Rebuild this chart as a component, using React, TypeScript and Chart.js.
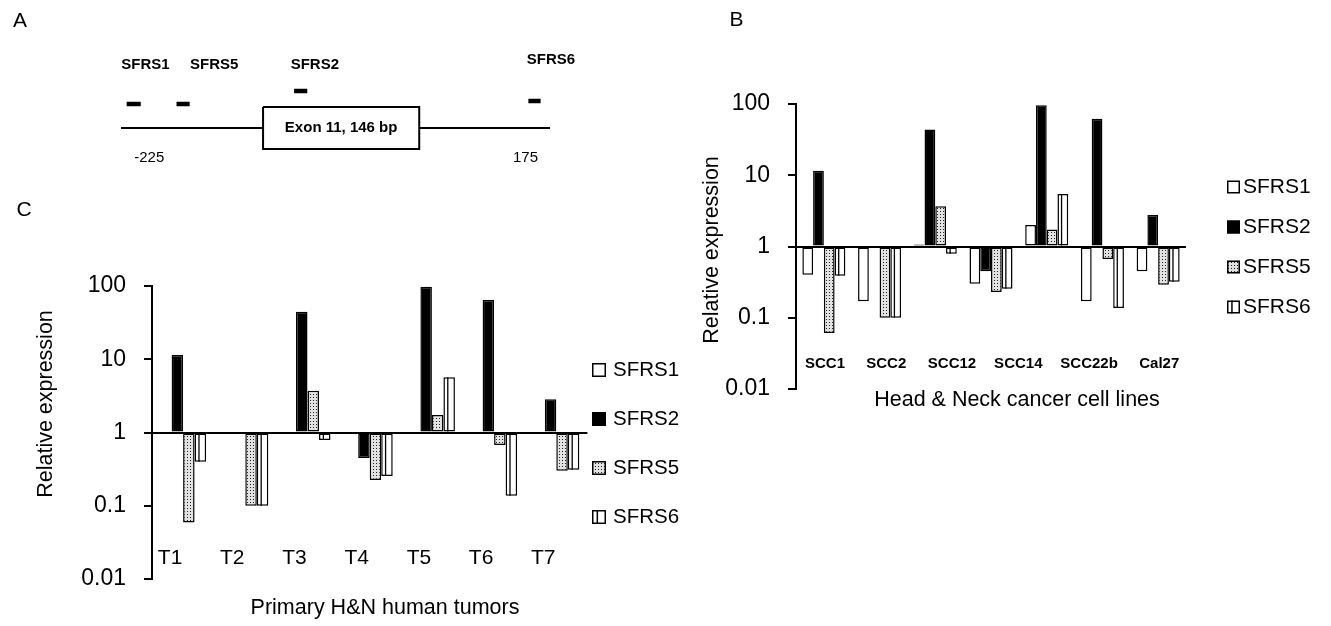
import React, { useEffect, useRef } from 'react';
import { Chart, registerables } from 'chart.js';

Chart.register(...registerables);

const FONT = "'Liberation Sans', Arial, Helvetica, sans-serif";
const FIG_W = 1331;
const FIG_H = 626;

// ---------------- Panel A : schematic (positions in bp around exon 11) ----------------
const regionBp = [-255, 201];
const exonBp = [-104, 62];
const exonLabel = 'Exon 11, 146 bp';
const siteNames = ['SFRS1', 'SFRS5', 'SFRS2', 'SFRS6'];
const siteStartBp = [-249, -196, -71, 178];
const siteEndBp = [-234, -182, -57, 191];
const siteLabelBp = [-229, -156, -49, 202];
const siteLevel = [24, 24, 37, 27];
const siteLabelLevel = [63, 63, 63, 68];
const coordTicks = [-225, 175];

// ---------------- Shared series / axis ----------------
const seriesNames = ['SFRS1', 'SFRS2', 'SFRS5', 'SFRS6'];
const logTickValues = [0.01, 0.1, 1, 10, 100];
const logTickLabels = ['0.01', '0.1', '1', '10', '100'];

// ---------------- Panel B : cell lines ----------------
const barGroupsB = ['1', '2', '3', '4', '5', '6', '7'];
const sfrs1B = [0.40, 0.17, 1.07, 0.30, 2.0, 0.17, 0.45];
const sfrs2B = [11.6, null, 44, 0.45, 96, 62, 2.77];
const sfrs5B = [0.061, 0.10, 3.66, 0.23, 1.73, 0.67, 0.29];
const sfrs6B = [0.39, 0.10, 0.79, 0.256, 5.46, 0.137, 0.32];
const cellLineLabels = ['SCC1', 'SCC2', 'SCC12', 'SCC14', 'SCC22b', 'Cal27'];
const cellLineLabelSlots = [0.02, 1.12, 2.3, 3.49, 4.76, 6.02];

// ---------------- Panel C : primary tumors ----------------
const tumors = ['T1', 'T2', 'T3', 'T4', 'T5', 'T6', 'T7'];
const sfrs1C = [null, null, null, null, null, null, null];
const sfrs2C = [11.4, null, 44.6, 0.45, 98, 64.5, 2.84];
const sfrs5C = [0.059, 0.10, 3.72, 0.225, 1.73, 0.675, 0.30];
const sfrs6C = [0.40, 0.10, 0.79, 0.255, 5.67, 0.137, 0.31];

function drawText(c: CanvasRenderingContext2D, text: string, x: number, y: number, font: string, align: CanvasTextAlign = 'center', rotate = 0) {
  c.save();
  c.translate(x, y);
  if (rotate) c.rotate(rotate);
  c.font = font;
  c.fillStyle = '#000';
  c.textAlign = align;
  c.textBaseline = 'middle';
  c.fillText(text, 0, 0);
  c.restore();
}

function makeDotPattern(ctx: CanvasRenderingContext2D) {
  const pc = document.createElement('canvas');
  pc.width = 3;
  pc.height = 3;
  const g = pc.getContext('2d')!;
  g.fillStyle = '#e2e2e2';
  g.fillRect(0, 0, 3, 3);
  g.fillStyle = '#222222';
  g.fillRect(1, 1, 1, 1);
  return ctx.createPattern(pc, 'repeat');
}

function makeDiagram(canvas: HTMLCanvasElement) {
  const exonHalf = 21;
  const datasets: any[] = [
    {
      label: 'exon',
      data: [
        { x: exonBp[0], y: exonHalf },
        { x: exonBp[1], y: exonHalf },
        { x: exonBp[1], y: -exonHalf },
        { x: exonBp[0], y: -exonHalf },
        { x: exonBp[0], y: exonHalf },
      ],
      borderColor: '#000',
      borderWidth: 2,
      borderJoinStyle: 'miter',
    },
    {
      label: 'intron',
      data: [
        { x: regionBp[0], y: 0 },
        { x: exonBp[0], y: 0 },
        { x: (exonBp[0] + exonBp[1]) / 2, y: null },
        { x: exonBp[1], y: 0 },
        { x: regionBp[1], y: 0 },
      ],
      borderColor: '#000',
      borderWidth: 2,
      spanGaps: false,
    },
    ...siteNames.map((n, i) => ({
      label: n,
      data: [
        { x: siteStartBp[i], y: siteLevel[i] },
        { x: siteEndBp[i], y: siteLevel[i] },
      ],
      borderColor: '#000',
      borderWidth: 4.5,
      borderCapStyle: 'butt',
    })),
  ].map((d) => ({ ...d, showLine: true, pointRadius: 0, fill: false, clip: false }));

  const textPlugin = {
    id: 'diagramText',
    afterDraw(chart: any) {
      const c = chart.ctx as CanvasRenderingContext2D;
      const xs = chart.scales.x;
      const ys = chart.scales.y;
      drawText(c, 'A', 20, 21, `21px ${FONT}`);
      siteNames.forEach((n, i) => {
        drawText(c, n, xs.getPixelForValue(siteLabelBp[i]), ys.getPixelForValue(siteLabelLevel[i]), `bold 15px ${FONT}`);
      });
      drawText(c, exonLabel, xs.getPixelForValue((exonBp[0] + exonBp[1]) / 2), ys.getPixelForValue(0), `bold 15px ${FONT}`);
      coordTicks.forEach((t) => {
        drawText(c, String(t), xs.getPixelForValue(t), ys.getPixelForValue(-30), `15px ${FONT}`);
      });
    },
  };

  return new Chart(canvas, {
    type: 'scatter',
    data: { datasets },
    options: {
      responsive: false,
      animation: false,
      devicePixelRatio: 1,
      layout: { padding: { left: 121, right: FIG_W - 550, top: 28, bottom: FIG_H - 168 } },
      scales: {
        x: { type: 'linear', min: regionBp[0], max: regionBp[1], display: false },
        y: { type: 'linear', min: -40, max: 100, display: false },
      },
      plugins: { legend: { display: false }, tooltip: { enabled: false }, title: { display: false } },
    } as any,
    plugins: [textPlugin],
  });
}

type PanelCfg = {
  categories: string[];
  series: (number | null)[][];
  area: { left: number; top: number; right: number; bottom: number };
  catPct: number;
  catLabels: string[];
  catSlots: number[];
  catShift: number;
  catY: number;
  catFont: string;
  xTitle: { text: string; x: number; y: number };
  yTitle: { text: string; x: number; y: number };
  letter: { text: string; x: number; y: number };
  legend: { boxX: number; box: number; textX: number; y0: number; step: number; font: number };
};

function makeBarChart(canvas: HTMLCanvasElement, p: PanelCfg) {
  const ctx = canvas.getContext('2d')!;
  const dots = makeDotPattern(ctx);
  const fills: any[] = ['#ffffff', '#000000', dots, '#ffffff'];
  const innerFrac = 0.38;

  const datasets: any[] = seriesNames.map((name, i) => ({
    label: name,
    data: p.series[i],
    base: 1,
    backgroundColor: fills[i],
    borderColor: '#000',
    borderWidth: 1.5,
    borderSkipped: false,
    categoryPercentage: p.catPct,
    barPercentage: 1,
  }));

  const deco = {
    id: 'deco',
    afterDatasetsDraw(chart: any) {
      const c = chart.ctx as CanvasRenderingContext2D;
      const meta = chart.getDatasetMeta(3);
      c.save();
      c.strokeStyle = '#000';
      c.lineWidth = 1.3;
      meta.data.forEach((el: any, i: number) => {
        if (p.series[3][i] == null) return;
        const { x, y, base, width } = el.getProps(['x', 'y', 'base', 'width'], true);
        const lx = x - width / 2 + width * innerFrac;
        c.beginPath();
        c.moveTo(lx, y);
        c.lineTo(lx, base);
        c.stroke();
      });
      c.restore();
    },
    afterDraw(chart: any) {
      const c = chart.ctx as CanvasRenderingContext2D;
      const xs = chart.scales.x;
      drawText(c, p.letter.text, p.letter.x, p.letter.y, `21px ${FONT}`);
      p.catLabels.forEach((lab, i) => {
        drawText(c, lab, xs.getPixelForValue(p.catSlots[i]) + p.catShift, p.catY, p.catFont);
      });
      drawText(c, p.xTitle.text, p.xTitle.x, p.xTitle.y, `21.5px ${FONT}`);
      drawText(c, p.yTitle.text, p.yTitle.x, p.yTitle.y, `21.5px ${FONT}`, 'center', -Math.PI / 2);
      const L = p.legend;
      seriesNames.forEach((name, i) => {
        const cy = L.y0 + i * L.step;
        const by = cy - L.box / 2;
        c.save();
        c.fillStyle = fills[i];
        c.fillRect(L.boxX, by, L.box, L.box);
        c.strokeStyle = '#000';
        c.lineWidth = 1.5;
        c.strokeRect(L.boxX + 0.75, by + 0.75, L.box - 1.5, L.box - 1.5);
        if (i === 3) {
          const lx = L.boxX + L.box * innerFrac;
          c.beginPath();
          c.moveTo(lx, by);
          c.lineTo(lx, by + L.box);
          c.stroke();
        }
        c.restore();
        drawText(c, name, L.textX, cy, `${L.font}px ${FONT}`, 'left');
      });
    },
  };

  return new Chart(canvas, {
    type: 'bar',
    data: { labels: p.categories, datasets },
    options: {
      responsive: false,
      animation: false,
      devicePixelRatio: 1,
      layout: {
        padding: {
          left: p.area.left - 70,
          right: FIG_W - p.area.right,
          top: p.area.top,
          bottom: FIG_H - p.area.bottom,
        },
      },
      scales: {
        x: {
          type: 'category',
          display: false,
          offset: true,
          afterFit: (ax: any) => {
            ax.height = 0;
          },
        },
        y: {
          type: 'logarithmic',
          min: 0.01,
          max: 100,
          afterBuildTicks: (ax: any) => {
            ax.ticks = logTickValues.map((v) => ({ value: v }));
          },
          afterFit: (ax: any) => {
            ax.width = 70;
          },
          ticks: {
            autoSkip: false,
            color: '#000',
            padding: 18,
            font: { family: FONT, size: 23 },
            callback: (v: any) => logTickLabels[logTickValues.indexOf(Number(v))] ?? '',
          },
          grid: {
            drawOnChartArea: true,
            drawTicks: true,
            tickLength: 8,
            lineWidth: 2,
            color: (c: any) => (c.tick && c.tick.value === 1 ? '#000' : 'rgba(0,0,0,0)'),
            tickColor: '#000',
          },
          border: { display: true, color: '#000', width: 2 },
        },
      },
      plugins: { legend: { display: false }, tooltip: { enabled: false }, title: { display: false } },
    } as any,
    plugins: [deco],
  });
}

const panelB: PanelCfg = {
  categories: barGroupsB,
  series: [sfrs1B, sfrs2B, sfrs5B, sfrs6B],
  area: { left: 796, top: 104, right: 1186, bottom: 389 },
  catPct: 0.772,
  catLabels: cellLineLabels,
  catSlots: cellLineLabelSlots,
  catShift: 0,
  catY: 364,
  catFont: `bold 15px ${FONT}`,
  xTitle: { text: 'Head & Neck cancer cell lines', x: 1017, y: 400 },
  yTitle: { text: 'Relative expression', x: 712, y: 250 },
  letter: { text: 'B', x: 736.5, y: 20 },
  legend: { boxX: 1227, box: 13, textX: 1243, y0: 187, step: 40, font: 21 },
};

const panelC: PanelCfg = {
  categories: tumors,
  series: [sfrs1C, sfrs2C, sfrs5C, sfrs6C],
  area: { left: 152, top: 286, right: 587.4, bottom: 579 },
  catPct: 0.74,
  catLabels: tumors,
  catSlots: tumors.map((_, i) => i),
  catShift: -13,
  catY: 558,
  catFont: `21px ${FONT}`,
  xTitle: { text: 'Primary H&N human tumors', x: 385, y: 608 },
  yTitle: { text: 'Relative expression', x: 46, y: 404 },
  letter: { text: 'C', x: 24, y: 210 },
  legend: { boxX: 592, box: 14, textX: 613, y0: 370, step: 49, font: 20.5 },
};

export default function App() {
  const refA = useRef<HTMLCanvasElement>(null);
  const refB = useRef<HTMLCanvasElement>(null);
  const refC = useRef<HTMLCanvasElement>(null);

  useEffect(() => {
    Chart.defaults.font.family = FONT;
    Chart.defaults.color = '#000';
    const charts: Chart[] = [];
    if (refA.current) charts.push(makeDiagram(refA.current));
    if (refB.current) charts.push(makeBarChart(refB.current, panelB));
    if (refC.current) charts.push(makeBarChart(refC.current, panelC));
    return () => charts.forEach((c) => c.destroy());
  }, []);

  const cs: React.CSSProperties = { position: 'absolute', left: 0, top: 0, width: FIG_W, height: FIG_H };
  return (
    <div style={{ position: 'absolute', left: 0, top: 0, width: FIG_W, height: FIG_H, background: '#fff', overflow: 'hidden' }}>
      <canvas ref={refA} width={FIG_W} height={FIG_H} style={cs} />
      <canvas ref={refB} width={FIG_W} height={FIG_H} style={cs} />
      <canvas ref={refC} width={FIG_W} height={FIG_H} style={cs} />
    </div>
  );
}
